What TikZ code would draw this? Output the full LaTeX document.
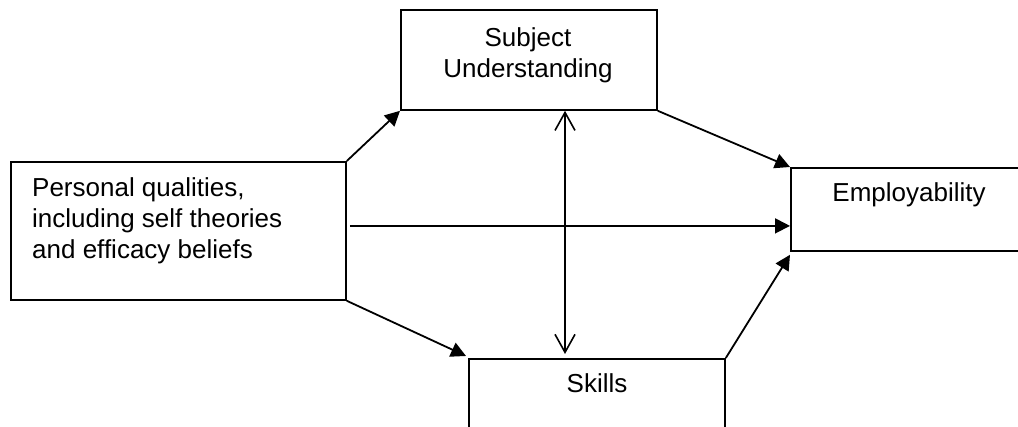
\documentclass[tikz,border=0pt]{standalone}
\usepackage{fontspec}
\setmainfont{Liberation Sans}
\usetikzlibrary{arrows.meta,calc}

\tikzset{
  box/.style={draw,line width=1.8pt,inner sep=0pt,anchor=north west},
  txt/.style={inner sep=0pt,font=\fontsize{26}{31}\selectfont},
  arr/.style={line width=1.8pt,-{Triangle[length=15pt,width=15pt]}},
  dbl/.style={line width=1.6pt,{Straight Barb[length=18pt,width=20pt]}-{Straight Barb[length=18pt,width=20pt]}}
}

\begin{document}
\begin{tikzpicture}[x=1pt,y=-1pt]

\useasboundingbox (0,0) rectangle (1018,427);
\clip (0,0) rectangle (1018,427);

% boxes
\node[box,minimum width=335pt,minimum height=138pt] (pq) at (10,161) {};
\node[box,minimum width=256pt,minimum height=100pt] (su) at (400,9) {};
\node[box,minimum width=238pt,minimum height=83pt] (em) at (790,167) {};
\node[box,minimum width=256pt,minimum height=100pt] (sk) at (468,358) {};

% texts
\node[txt,anchor=north west,align=left] (pq-t) at (32,177.5)
  {Personal qualities,\\including self theories\\and efficacy beliefs};
\node[txt,anchor=north,align=center] (su-t) at (528,27.3)
  {Subject\\Understanding};
\node[txt,anchor=base] (em-t) at (909,202) {Employability};
\node[txt,anchor=base] (sk-t) at (597,393) {Skills};

\coordinate (v) at (565,0);

% connectors
\draw[arr] (pq.north east) -- (su.south west);
\draw[arr] (su.south east) -- (em.north west);
\draw[arr] ([shift={(3pt,5pt)}]pq.east) -- ([yshift=5pt]pq.east -| em.west);
\draw[arr] (pq.south east) -- ([shift={(-2pt,2pt)}]sk.north west);
\draw[arr] (sk.north east) -- ([yshift=-3pt]em.south west);
\draw[dbl] (su.south -| v) -- ([yshift=4pt]sk.north -| v);

\end{tikzpicture}
\end{document}
